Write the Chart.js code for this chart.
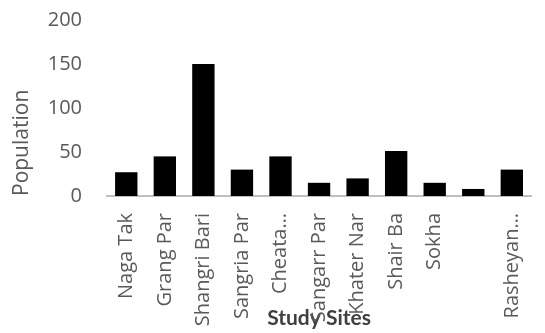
<!DOCTYPE html>
<html lang="en">
<head>
    <meta charset="UTF-8" />
    <title>Population by Study Site</title>
    <script src="https://cdn.jsdelivr.net/npm/chart.js"></script>
    <style>
        html, body { margin: 0; padding: 0; background: #fff; }
        #wrap { width: 545px; height: 333px; }
    </style>
</head>
<body>
    <div id="wrap"><canvas id="popChart"></canvas></div>
    <script>
        var sites = ["Naga Tak", "Grang Par", "Shangri Bari", "Sangria Par", "Cheata…", "Sangarr Par",
            "Khater Nar", "Shair Ba", "Sokha", "", "Rasheyan…"];
        var population = [27, 45, 150, 30, 45, 15, 20, 51, 15, 8, 30];
        var yTicks = [0, 50, 100, 150, 200];

        var grey = "#595959";
        var font = "'Open Sans', 'Liberation Sans', sans-serif";

        new Chart(document.getElementById("popChart"), {
            type: "bar",
            data: {
                labels: sites,
                datasets: [{ label: "Population", data: population, backgroundColor: "#000", barPercentage: 0.58, categoryPercentage: 1 }]
            },
            options: {
                responsive: true,
                maintainAspectRatio: false,
                animation: false,
                layout: { padding: { top: 20, right: 4, bottom: 0, left: 0 } },
                plugins: { legend: { display: false }, tooltip: { enabled: false } },
                scales: {
                    x: {
                        grid: { display: false },
                        border: { display: true, color: "#bfbfbf", width: 2 },
                        ticks: { color: grey, font: { family: font, size: 20 }, maxRotation: 90, minRotation: 90, padding: 9, autoSkip: false },
                        title: { display: true, text: "Study Sites", color: "#404040", font: { family: "Lato, 'Open Sans', sans-serif", size: 21, weight: "bold" }, padding: { top: 0, bottom: 2 } },
                        afterFit: function (scale) { scale.height = 137; }
                    },
                    y: {
                        min: 0, max: 200,
                        grid: { display: false },
                        border: { display: false },
                        afterBuildTicks: function (scale) { scale.ticks = yTicks.map(function (v) { return { value: v }; }); },
                        ticks: { color: grey, font: { family: font, size: 20 }, padding: 17 },
                        title: { display: true, text: "Population", align: "start", color: grey, font: { family: font, size: 21 }, padding: { top: 9, bottom: 0 } },
                        afterFit: function (scale) { scale.width = 107; scale.paddingTop = 0; }
                    }
                }
            }
        });
    </script>
</body>
</html>
